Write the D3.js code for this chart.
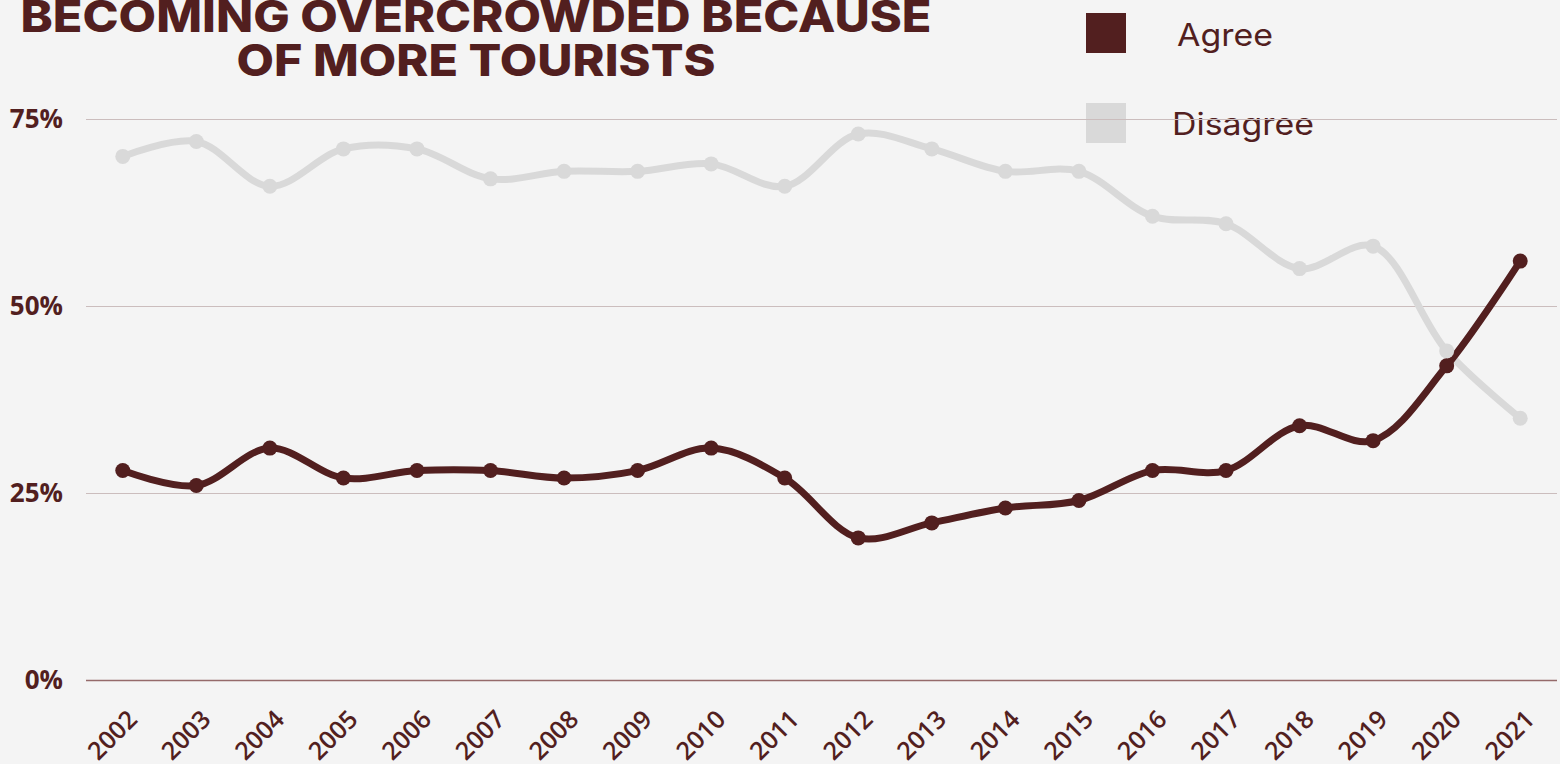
<!DOCTYPE html>
<html>
<head>
<meta charset="utf-8">
<script src="https://cdn.jsdelivr.net/npm/d3@7"></script>
<style>
  html, body { margin: 0; padding: 0; background: #f4f4f4; }
  svg { display: block; }
</style>
</head>
<body>
<svg id="chart" width="1560" height="764"></svg>
<script>
// Survey: is the city becoming overcrowded because of more tourists?
const years = ["2002","2003","2004","2005","2006","2007","2008","2009","2010","2011",
               "2012","2013","2014","2015","2016","2017","2018","2019","2020","2021"];
const agree    = [28, 26, 31, 27, 28, 28, 27, 28, 31, 27, 19, 21, 23, 24, 28, 28, 34, 32, 42, 56];
const disagree = [70, 72, 66, 71, 71, 67, 68, 68, 69, 66, 73, 71, 68, 68, 62, 61, 55, 58, 44, 35];
const yTicks = [0, 25, 50, 75];
const titleLines = ["BECOMING OVERCROWDED BECAUSE", "OF MORE TOURISTS"];
const seriesNames = ["Agree", "Disagree"];

const AGREE_COLOR = "#521f1f";
const DISAGREE_COLOR = "#d9d9d9";
const TEXT_COLOR = "#521f1f";

const svg = d3.select("#chart");
svg.append("rect").attr("width", 1560).attr("height", 764).attr("fill", "#f4f4f4");

const x = d3.scaleBand().domain(years).range([86, 1557]).padding(0);
const y = d3.scaleLinear().domain([0, 75]).range([680, 119]);
const cx = d => x(d) + x.bandwidth() / 2;

// Title
const titleSpecs = [
  { text: titleLines[0], y: 32, len: 911 },
  { text: titleLines[1], y: 76, len: 479 }
];
svg.append("g").selectAll("text").data(titleSpecs).join("text")
  .attr("x", 476).attr("y", d => d.y)
  .attr("text-anchor", "middle")
  .attr("textLength", d => d.len)
  .attr("lengthAdjust", "spacingAndGlyphs")
  .attr("font-family", "Inter, 'Open Sans', sans-serif")
  .attr("font-weight", 800)
  .attr("font-size", 44)
  .attr("fill", TEXT_COLOR)
  .text(d => d.text);

// Legend
const legendItems = [
  { name: seriesNames[0], color: AGREE_COLOR, y: 13, tx: 1177, ty: 46, len: 96 },
  { name: seriesNames[1], color: DISAGREE_COLOR, y: 103, tx: 1172, ty: 135, len: 142 }
];
const legend = svg.append("g");
legend.selectAll("rect").data(legendItems).join("rect")
  .attr("x", 1086).attr("y", d => d.y).attr("width", 40).attr("height", 40)
  .attr("fill", d => d.color);
legend.selectAll("text").data(legendItems).join("text")
  .attr("x", d => d.tx).attr("y", d => d.ty)
  .attr("textLength", d => d.len)
  .attr("lengthAdjust", "spacingAndGlyphs")
  .attr("font-family", "Inter, 'Open Sans', sans-serif")
  .attr("font-size", 31)
  .attr("fill", TEXT_COLOR)
  .text(d => d.name);

// Gridlines and y-axis labels
const grid = svg.append("g");
grid.selectAll("line").data(yTicks).join("line")
  .attr("x1", 86).attr("x2", 1557)
  .attr("y1", d => Math.round(y(d)) + 0.5).attr("y2", d => Math.round(y(d)) + 0.5)
  .attr("stroke", d => d === 0 ? "#956a6a" : "#cbbdbd")
  .attr("stroke-width", d => d === 0 ? 1.5 : 1);
grid.selectAll("text").data(yTicks).join("text")
  .attr("x", 63).attr("y", d => y(d))
  .attr("dy", "0.36em")
  .attr("text-anchor", "end")
  .attr("font-family", "'Open Sans', sans-serif")
  .attr("font-weight", 700)
  .attr("font-size", 26)
  .attr("fill", TEXT_COLOR)
  .text(d => d + "%");

// X-axis year labels, slanted
const xAxis = svg.append("g")
  .attr("transform", "translate(0,680)")
  .call(d3.axisBottom(x).tickSize(0).tickPadding(0));
xAxis.select(".domain").remove();
xAxis.selectAll("text")
  .attr("font-family", "'Open Sans', sans-serif")
  .attr("font-weight", 600)
  .attr("font-size", 25)
  .attr("fill", TEXT_COLOR)
  .attr("text-anchor", "end")
  .attr("dy", 0)
  .attr("y", 0)
  .attr("transform", "translate(16,41) rotate(-45)");

// Lines
const line = d3.line()
  .x((d, i) => cx(years[i]))
  .y(d => y(d))
  .curve(d3.curveCatmullRom.alpha(0.5));

const plot = svg.append("g");
plot.append("path").datum(disagree)
  .attr("d", line).attr("fill", "none")
  .attr("stroke", DISAGREE_COLOR).attr("stroke-width", 7)
  .attr("stroke-linejoin", "round").attr("stroke-linecap", "round");
plot.append("path").datum(agree)
  .attr("d", line).attr("fill", "none")
  .attr("stroke", AGREE_COLOR).attr("stroke-width", 7)
  .attr("stroke-linejoin", "round").attr("stroke-linecap", "round");

plot.append("g").selectAll("circle").data(disagree).join("circle")
  .attr("cx", (d, i) => cx(years[i])).attr("cy", d => y(d)).attr("r", 7.5)
  .attr("fill", DISAGREE_COLOR);
plot.append("g").selectAll("circle").data(agree).join("circle")
  .attr("cx", (d, i) => cx(years[i])).attr("cy", d => y(d)).attr("r", 7.5)
  .attr("fill", AGREE_COLOR);
</script>
</body>
</html>
